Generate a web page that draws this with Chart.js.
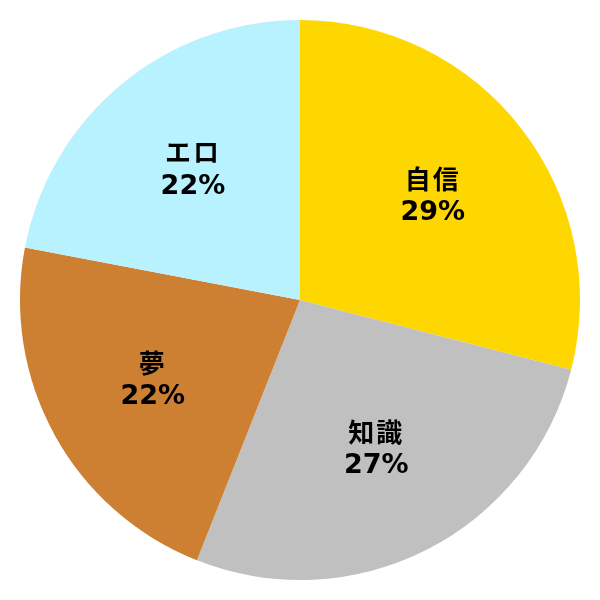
<!DOCTYPE html>
<html><head><meta charset="utf-8">
<script src="https://cdn.jsdelivr.net/npm/chart.js@4/dist/chart.umd.min.js"></script>
<style>html,body{margin:0;padding:0;background:#fff;}#wrap{width:600px;height:600px;}</style>
</head><body><div id="wrap"><canvas id="c" width="600" height="600"></canvas></div>
<script>
const categories = ["自信", "知識", "夢", "エロ"];
const values = [29, 27, 22, 22];
const colors = ["#FFD700", "#C0C0C0", "#CD7F32", "#B9F2FF"];

const labelPlugin = {
  id: 'sliceLabels',
  afterDatasetsDraw(chart) {
    const ctx = chart.ctx;
    const meta = chart.getDatasetMeta(0);
    const total = values.reduce((a, b) => a + b, 0);
    meta.data.forEach((arc, i) => {
      const p = arc.getProps(['x', 'y', 'startAngle', 'endAngle', 'outerRadius'], true);
      const mid = (p.startAngle + p.endAngle) / 2;
      const r = p.outerRadius * 0.6;
      const x = p.x + Math.cos(mid) * r;
      const y = p.y + Math.sin(mid) * r;
      ctx.save();
      ctx.fillStyle = '#000';
      ctx.textAlign = 'center';
      ctx.textBaseline = 'middle';
      ctx.font = 'bold 26px "Noto Sans CJK JP", "DejaVu Sans", sans-serif';
      if ('letterSpacing' in ctx) ctx.letterSpacing = '2px';
      ctx.fillText(categories[i], x, y - 18);
      if ('letterSpacing' in ctx) ctx.letterSpacing = '0px';
      ctx.font = 'bold 27px "DejaVu Sans", sans-serif';
      ctx.fillText(Math.round(values[i] / total * 100) + '%', x, y + 16);
      ctx.restore();
    });
  }
};

new Chart(document.getElementById('c'), {
  type: 'pie',
  data: {
    labels: categories,
    datasets: [{ data: values, backgroundColor: colors, borderWidth: 0 }]
  },
  options: {
    responsive: false,
    animation: false,
    layout: { padding: 20 },
    plugins: { legend: { display: false }, tooltip: { enabled: false } }
  },
  plugins: [labelPlugin]
});
</script></body></html>
